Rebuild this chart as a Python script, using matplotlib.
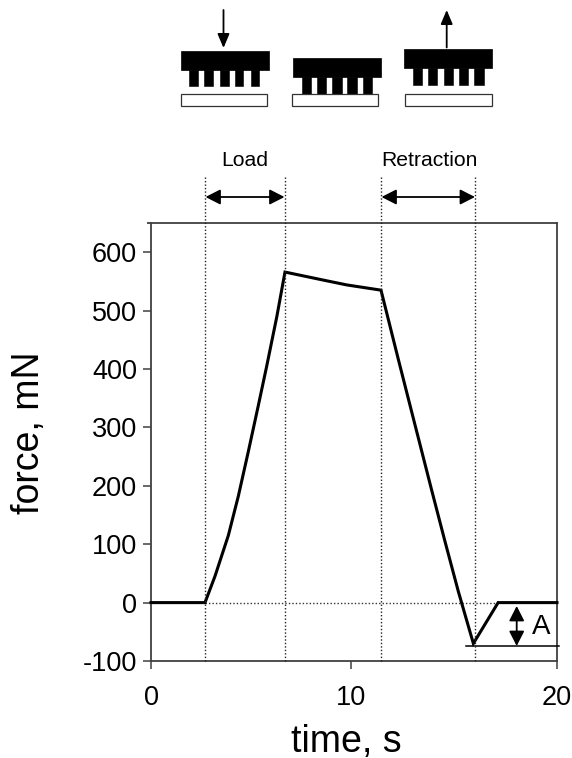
import matplotlib
matplotlib.use('Agg')
import matplotlib.pyplot as plt
from matplotlib.patches import Rectangle

plt.rcParams['font.family'] = ['Liberation Sans', 'DejaVu Sans']

time = [0, 2.66, 3.15, 3.81, 4.3, 4.79, 5.29, 5.7, 6.2, 6.6, 8.66, 9.64, 11.33,
        12.18, 13.0, 13.83, 14.48, 15.14, 15.88, 17.1, 18, 20]
force = [0, 0, 45, 115, 182, 258, 338, 405, 490, 566, 551, 544, 535,
         417, 305, 192, 105, 19, -70, 0, 0, 0]
y_ticks = [-100, 0, 100, 200, 300, 400, 500, 600]
y_tick_labels = ['-100', '0', '100', '200', '300', '400', '500', '600']
x_ticks = [0, 9.85, 20]
x_tick_labels = ['0', '10', '20']
phase_times = [2.66, 6.6, 11.35, 15.98]
adhesion = -74

W, H = 572, 758
fig = plt.figure(figsize=(W / 100, H / 100), dpi=100)

# main axes, placed by pixel
left, right, top, bottom = 151, 557, 223, 661
ax = fig.add_axes([left / W, 1 - bottom / H, (right - left) / W, (bottom - top) / H])
ax.set_xlim(0, 20)
ax.set_ylim(-100, 650)
for s in ax.spines.values():
    s.set_color('#404040')
    s.set_linewidth(1.3)
ax.set_xticks(x_ticks, x_tick_labels)
ax.set_yticks(y_ticks, y_tick_labels)
ax.set_yticks([650], minor=True)
ax.tick_params(axis='both', which='major', direction='out', length=6, width=1.1,
               color='#404040', labelsize=19.5, pad=4)
ax.tick_params(axis='x', pad=11)
ax.tick_params(axis='y', which='minor', direction='out', length=3, width=1.3, color='#404040')

ax.plot(time, force, color='black', lw=2.2, solid_joinstyle='miter', zorder=5, clip_on=False)
ax.plot([phase_times[0], 17.2], [0, 0], color='#333333', lw=1, ls=(0, (1, 1.5)))
ax.plot([15.5, 20.1], [adhesion, adhesion], color='black', lw=1.1, clip_on=False, zorder=6)

# overlay in pixel coordinates for the cartoon and annotations
ov = fig.add_axes([0, 0, 1, 1], facecolor='none')
ov.set_xlim(0, W)
ov.set_ylim(H, 0)
ov.axis('off')

for t in phase_times:
    xp = left + t * (right - left) / 20
    ov.plot([xp, xp], [177, bottom], color='#222222', lw=1, ls=(0, (1, 1.5)))


def stamp(x0, x1, y0, y1, pillars, pillar_end, base):
    ov.add_patch(Rectangle((x0, y0), x1 - x0, y1 - y0, fc='black', ec='black', lw=0.5))
    for a, b in pillars:
        ov.add_patch(Rectangle((a, y1), b - a, pillar_end - y1, fc='black', ec='black', lw=0.4))
    ov.add_patch(Rectangle((base[0], 93.5), base[1] - base[0], 12.5, fc='white', ec='#333333', lw=0.9))


stamp(180.5, 268.5, 51, 69.5,
      [(188.7, 198.3), (204.3, 213.3), (220, 228.7), (235, 243.3), (250.7, 259.3)], 86, (180.7, 267.3))
stamp(292.7, 380.7, 58, 76.7,
      [(301.7, 310.7), (316.7, 326), (332.3, 341.7), (347.3, 356.7), (362.7, 372)], 93.5, (292.3, 378.3))
stamp(404, 492.3, 49.3, 68.3,
      [(412.7, 422.3), (428.3, 437.3), (444, 453.3), (459, 468.3), (474.3, 483.7)], 85, (405.3, 492))


def arrow(p0, p1, style, lw=1.3):
    ov.annotate('', xy=p1, xytext=p0, xycoords='data', textcoords='data',
                arrowprops=dict(arrowstyle=style, color='black', lw=lw,
                                shrinkA=0, shrinkB=0))


head = '-|>,head_length=0.85,head_width=0.36'
both = '<|-|>,head_length=0.9,head_width=0.46'
arrow((223.5, 10), (223.5, 48), head)
arrow((446.7, 47.5), (446.7, 10), head)
arrow((205.5, 197), (284.5, 197), both)
arrow((381.5, 197), (475, 197), both)
arrow((516.7, 606), (516.7, 646), both)

ov.text(245, 160.5, 'Load', ha='center', va='center', fontsize=15.2)
ov.text(429, 160.5, 'Retraction', ha='center', va='center', fontsize=15.2)
ov.text(541.5, 626.5, 'A', ha='center', va='center', fontsize=20)
ov.text(28.5, 433, 'force, mN', rotation=90, ha='center', va='center', fontsize=27)
ov.text(346, 752, 'time, s', ha='center', va='baseline', fontsize=27)

fig.savefig('out.png', dpi=100)
